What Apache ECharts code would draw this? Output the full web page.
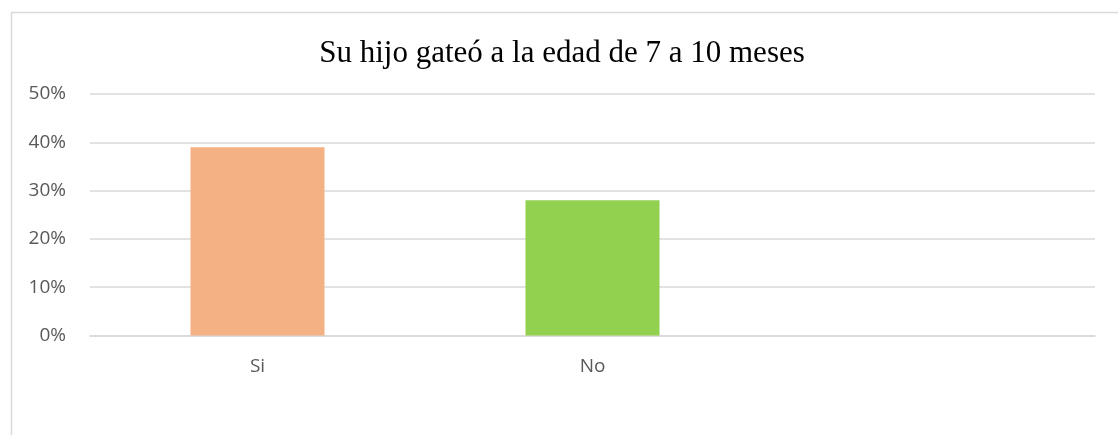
<!DOCTYPE html>
<html>
<head>
<meta charset="utf-8">
<script src="https://cdn.jsdelivr.net/npm/echarts@6/dist/echarts.min.js"></script>
<style>
html,body{margin:0;padding:0;background:#fff;}
#chart{width:1118px;height:435px;}
</style>
</head>
<body>
<div id="chart"></div>
<script>
const titleText = "Su hijo gateó a la edad de 7 a 10 meses";
const categories = ["Si", "No", ""];
const values = [0.39, 0.28, null];
const barColors = ["#F4B183", "#92D050", "#92D050"];
const yTicks = [0, 0.1, 0.2, 0.3, 0.4, 0.5];

const chart = echarts.init(document.getElementById('chart'), null, {renderer: 'canvas'});
chart.setOption({
  animation: false,
  backgroundColor: '#ffffff',
  graphic: [{
    type: 'rect',
    shape: {x: 11.5, y: 12.5, width: 1200, height: 500},
    style: {fill: 'none', stroke: '#d9d9d9', lineWidth: 1.5},
    silent: true
  }],
  title: {
    text: titleText,
    left: 557,
    textAlign: 'center',
    top: 33,
    textStyle: {fontFamily: 'Liberation Serif', fontWeight: 'normal', fontSize: 31, color: '#000000'}
  },
  grid: {left: 90, right: 23, top: 94, bottom: 99.5, containLabel: false},
  xAxis: {
    type: 'category',
    data: categories,
    axisTick: {show: false},
    axisLine: {show: true, lineStyle: {color: '#d9d9d9', width: 1.5}},
    axisLabel: {margin: 22, fontSize: 19, color: '#595959', fontFamily: 'Open Sans'}
  },
  yAxis: {
    type: 'value',
    min: yTicks[0],
    max: yTicks[yTicks.length - 1],
    interval: 0.1,
    axisLine: {show: false},
    axisTick: {show: false},
    splitLine: {lineStyle: {color: '#d9d9d9', width: 1.5}},
    axisLabel: {
      margin: 24, fontSize: 19, color: '#595959', fontFamily: 'Open Sans',
      formatter: v => Math.round(v * 100) + '%'
    }
  },
  series: [{
    type: 'bar',
    data: values.map((v, i) => ({value: v, itemStyle: {color: barColors[i]}})),
    barWidth: '40%'
  }]
});
</script>
</body>
</html>
